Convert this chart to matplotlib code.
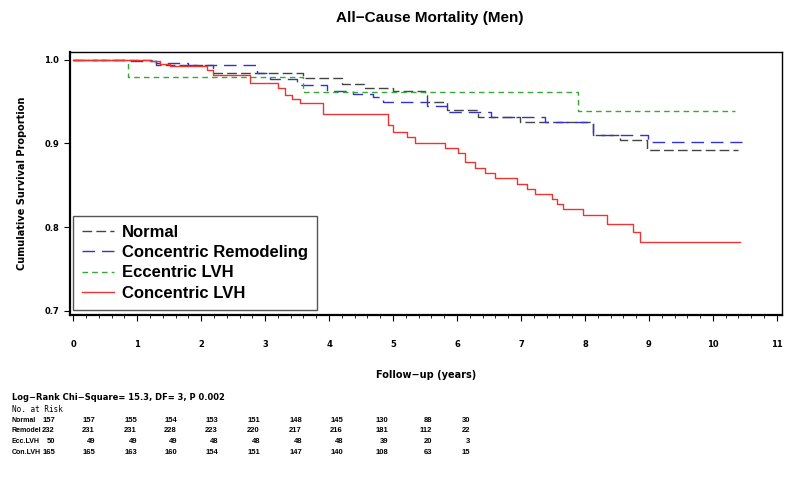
import numpy as np
import matplotlib.pyplot as plt
from matplotlib.ticker import MultipleLocator

# Kaplan-Meier step curves (years, survival)
normal_t = [0, 1.30, 2.19, 3.60, 4.20, 4.55, 5.00, 5.50, 5.53, 5.84, 6.33, 6.98, 8.13, 8.55, 8.97, 10.39]
normal_s = [1.0, 0.994, 0.984, 0.978, 0.971, 0.966, 0.963, 0.958, 0.949, 0.940, 0.932, 0.926, 0.910, 0.904, 0.892, 0.892]

remodel_t = [0, 0.85, 1.30, 1.80, 2.87, 3.08, 3.50, 3.97, 4.37, 4.69, 4.84, 5.53, 5.84, 6.53, 7.38, 8.13, 8.98, 10.45]
remodel_s = [1.0, 0.998, 0.996, 0.994, 0.984, 0.977, 0.970, 0.963, 0.959, 0.956, 0.949, 0.945, 0.938, 0.932, 0.926, 0.910, 0.902, 0.902]

ecc_t = [0, 0.85, 3.60, 7.89, 10.35]
ecc_s = [1.0, 0.980, 0.962, 0.939, 0.939]

conc_t = [0, 1.20, 1.36, 1.52, 2.09, 2.19, 2.77, 3.20, 3.31, 3.42, 3.55, 3.91, 4.92, 5.00, 5.22, 5.34,
          5.81, 6.02, 6.13, 6.28, 6.44, 6.59, 6.94, 7.09, 7.22, 7.48, 7.56, 7.66, 7.97, 8.34, 8.75, 8.86, 10.42]
conc_s = [1.0, 0.998, 0.995, 0.993, 0.988, 0.982, 0.972, 0.966, 0.958, 0.953, 0.948, 0.935, 0.922, 0.914, 0.908, 0.900,
          0.894, 0.889, 0.878, 0.871, 0.865, 0.859, 0.851, 0.845, 0.839, 0.834, 0.827, 0.821, 0.814, 0.804, 0.794, 0.782, 0.782]

# Number at risk table
risk_labels = ['Normal', 'Remodel', 'Ecc.LVH', 'Con.LVH']
risk_normal = [157, 157, 155, 154, 153, 151, 148, 145, 130, 88, 30]
risk_remodel = [232, 231, 231, 228, 223, 220, 217, 216, 181, 112, 22]
risk_ecc = [50, 49, 49, 49, 48, 48, 48, 48, 39, 20, 3]
risk_conc = [165, 165, 163, 160, 154, 151, 147, 140, 108, 63, 15]

fig = plt.figure(figsize=(8, 4.8), dpi=100)
ax = fig.add_axes([0.0875, 0.344, 0.89, 0.548])

ax.step(normal_t, normal_s, where='post', color='#444444', lw=1.0,
        dashes=(7, 3), label='Normal')
ax.step(remodel_t, remodel_s, where='post', color='#3333cc', lw=1.0,
        dashes=(9, 5), label='Concentric Remodeling')
ax.step(ecc_t, ecc_s, where='post', color='#33aa33', lw=1.0,
        dashes=(4, 3), label='Eccentric LVH')
ax.step(conc_t, conc_s, where='post', color='#ee3333', lw=1.0,
        label='Concentric LVH')

ax.set_xlim(-0.05, 11.08)
ax.set_ylim(0.695, 1.0095)
ax.set_xticks(range(0, 12))
ax.xaxis.set_minor_locator(MultipleLocator(0.2))
ax.set_yticks([0.7, 0.8, 0.9, 1.0])
ax.set_yticklabels(['0.7', '0.8', '0.9', '1.0'])
ax.tick_params(axis='both', which='major', labelsize=6, length=4, width=0.8, direction='out')
ax.tick_params(axis='x', which='major', pad=14)
ax.tick_params(axis='y', which='major', pad=4)
ax.tick_params(axis='x', which='minor', length=2, width=0.6, direction='out')
for lab in ax.get_xticklabels() + ax.get_yticklabels():
    lab.set_fontweight('bold')
for sp in ax.spines.values():
    sp.set_linewidth(1.0)
ax.spines['left'].set_linewidth(1.6)
ax.spines['bottom'].set_linewidth(1.6)

ax.set_xlabel('Follow\u2212up (years)', fontsize=7, fontweight='bold', labelpad=15)
ax.set_ylabel('Cumulative Survival Proportion', fontsize=7, fontweight='bold', labelpad=12)

leg = ax.legend(loc='lower left', bbox_to_anchor=(0.004, 0.019), borderaxespad=0,
                prop={'family': 'Liberation Sans', 'weight': 'bold', 'size': 12},
                handlelength=1.9, handletextpad=0.5, labelspacing=0.32,
                borderpad=0.55, fancybox=False, framealpha=1)
leg.get_frame().set_edgecolor('#555555')
leg.get_frame().set_linewidth(1.0)

fig.text(0.5375, 0.963, 'All\u2212Cause Mortality (Men)', ha='center', va='center',
         fontsize=11, fontweight='bold', family='Liberation Sans')

fig.text(0.015, 1 - 398 / 480, 'Log\u2212Rank Chi\u2212Square= 15.3, DF= 3, P 0.002',
         ha='left', va='center', fontsize=6, fontweight='bold')
fig.text(0.015, 1 - 410 / 480, 'No. at Risk', ha='left', va='center',
         fontsize=5.5, family='DejaVu Sans Mono')

col_right = [55, 95, 137, 177, 218, 260, 302, 343, 388, 432, 470]
rows = [risk_normal, risk_remodel, risk_ecc, risk_conc]
for i, (name, vals) in enumerate(zip(risk_labels, rows)):
    y = 1 - (420.5 + i * 10.5) / 480
    fig.text(0.015, y, name, ha='left', va='center', fontsize=5,
             family='Liberation Sans', fontweight='bold')
    for xr, v in zip(col_right, vals):
        fig.text(xr / 800, y, str(v), ha='right', va='center', fontsize=5.5,
                 family='Liberation Sans', fontweight='bold')

fig.savefig('out.png', dpi=100)
